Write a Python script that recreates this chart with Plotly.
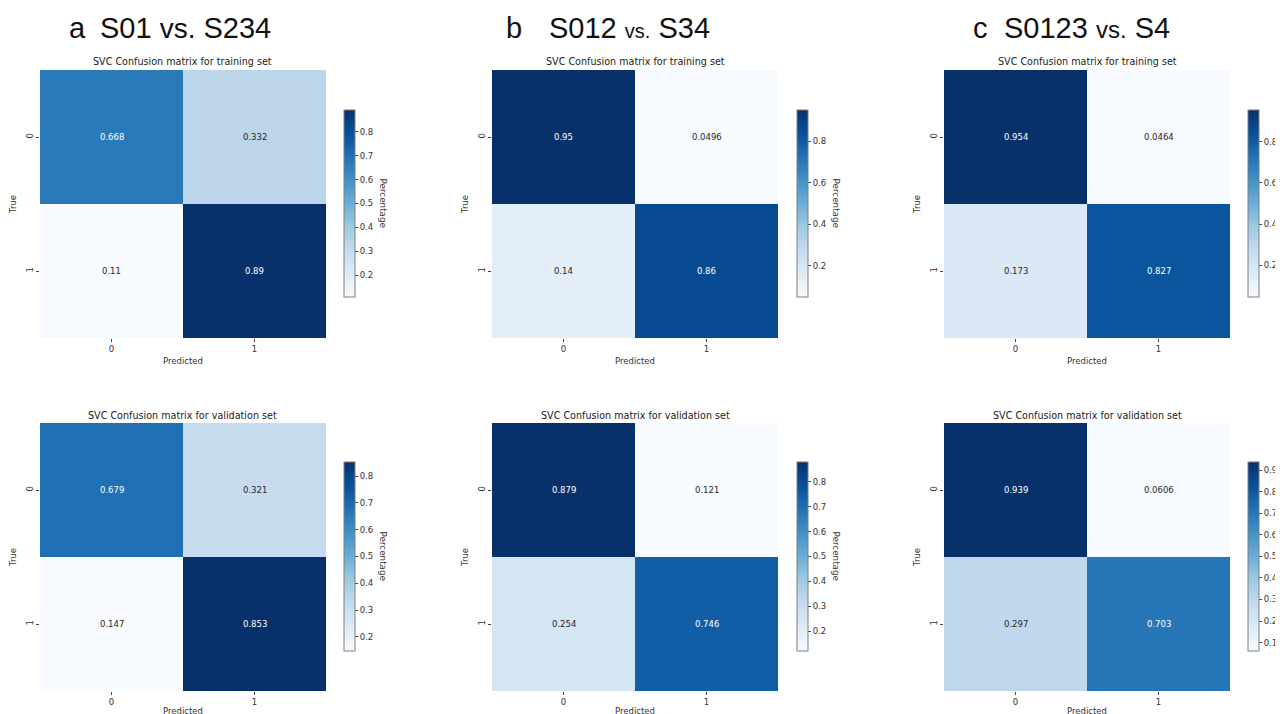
import plotly.graph_objects as go

# ---------------- data ----------------
panel_letters = ["a", "b", "c"]
comparison_left = ["S01", "S012", "S0123"]
comparison_right = ["S234", "S34", "S4"]
set_names = ["training", "validation"]
class_labels = ["0", "1"]

# confusion matrices (row = True, col = Predicted), normalised
train_a = [[0.668, 0.332], [0.11, 0.89]]
train_b = [[0.95, 0.0496], [0.14, 0.86]]
train_c = [[0.954, 0.0464], [0.173, 0.827]]
valid_a = [[0.679, 0.321], [0.147, 0.853]]
valid_b = [[0.879, 0.121], [0.254, 0.746]]
valid_c = [[0.939, 0.0606], [0.297, 0.703]]

matrices = [[train_a, train_b, train_c], [valid_a, valid_b, valid_c]]
colorbar_dticks = [[0.1, 0.2, 0.2], [0.1, 0.1, 0.1]]

# ---------------- style ----------------
W, H = 1283, 714
OFF = 8  # page body margin
blues = ["#f7fbff", "#deebf7", "#c6dbef", "#9ecae1", "#6baed6",
         "#4292c6", "#2171b5", "#08519c", "#08306b"]
colorscale = [[i / 8, c] for i, c in enumerate(blues)]

col_x0 = [40, 492, 944]
row_y0 = [70, 423]
hm_w, hm_h = 286, 268
cb_x = [344, 797, 1248]
cb_rows = [(110, 297), (462, 651)]
pred_standoff = [4, 1]

FONT = "DejaVu Sans"
TXT = "#333333"


def px_x(x):
    return (x - OFF) / W


def px_y(y):
    return 1 - (y - OFF) / H


fig = go.Figure()
annotations = []
idx = 0
for r in range(2):
    for c in range(3):
        idx += 1
        z = matrices[r][c]
        zmin = min(min(row) for row in z)
        zmax = max(max(row) for row in z)
        xa = "x" if idx == 1 else f"x{idx}"
        ya = "y" if idx == 1 else f"y{idx}"
        xkey = "xaxis" if idx == 1 else f"xaxis{idx}"
        ykey = "yaxis" if idx == 1 else f"yaxis{idx}"
        cb_top, cb_bot = cb_rows[r]
        fig.add_trace(go.Heatmap(
            z=z, x=[0, 1], y=[0, 1], xaxis=xa, yaxis=ya,
            colorscale=colorscale, zmin=zmin, zmax=zmax,
            hoverinfo="skip",
            colorbar=dict(
                x=px_x(cb_x[c]), xanchor="left", xpad=0, ypad=0,
                y=px_y((cb_top + cb_bot) / 2), yanchor="middle",
                len=(cb_bot - cb_top) / H, lenmode="fraction",
                thickness=11, thicknessmode="pixels",
                outlinewidth=1, outlinecolor="#7f7f7f",
                ticks="outside", ticklen=3, tickcolor="#444",
                tick0=0, dtick=colorbar_dticks[r][c],
                tickfont=dict(family=FONT, size=8.5, color=TXT),
            ),
        ))
        x0 = col_x0[c]
        y0 = row_y0[r]
        fig.update_layout(**{
            xkey: dict(domain=[px_x(x0), px_x(x0 + hm_w)], anchor=ya,
                       range=[-0.5, 1.5], tickvals=[0, 1], ticktext=class_labels,
                       showgrid=False, zeroline=False, showline=False,
                       ticks="outside", ticklen=3, tickcolor="#444",
                       tickfont=dict(family=FONT, size=8.5, color=TXT),
                       title=dict(text="Predicted", standoff=pred_standoff[r],
                                  font=dict(family=FONT, size=8.5, color=TXT))),
            ykey: dict(domain=[px_y(y0 + hm_h), px_y(y0)], anchor=xa,
                       range=[1.5, -0.5], tickvals=[0, 1], ticktext=class_labels,
                       tickangle=-90,
                       showgrid=False, zeroline=False, showline=False,
                       ticks="outside", ticklen=3, tickcolor="#444",
                       tickfont=dict(family=FONT, size=8.5, color=TXT),
                       title=dict(text="True", standoff=6,
                                  font=dict(family=FONT, size=8.5, color=TXT))),
        })
        # cell annotations
        for i in range(2):
            for j in range(2):
                v = z[i][j]
                norm = (v - zmin) / (zmax - zmin)
                annotations.append(dict(
                    x=j, y=i, xref=xa, yref=ya, text=f"{v:.3g}",
                    showarrow=False,
                    font=dict(family=FONT, size=8.5,
                              color="white" if norm > 0.45 else "#262626")))
        # subplot title
        annotations.append(dict(
            x=px_x(x0 + hm_w / 2), y=px_y(y0 - 8), xref="paper", yref="paper",
            text=f"SVC Confusion matrix for {set_names[r]} set",
            showarrow=False, xanchor="center", yanchor="middle",
            font=dict(family=FONT, size=9.6, color="#222")))
        # colorbar label
        if c < 2:
            annotations.append(dict(
                x=px_x(cb_x[c] + 39), y=px_y((cb_top + cb_bot) / 2),
                xref="paper", yref="paper", text="Percentage", textangle=90,
                showarrow=False, xanchor="center", yanchor="middle",
                font=dict(family=FONT, size=8.8, color=TXT)))

# panel headers
letter_x = [67, 504, 971]
head_x = [98, 547, 1002]
vs_size = [28, 20, 24]
for c in range(3):
    annotations.append(dict(
        x=px_x(letter_x[c]), y=px_y(28), xref="paper", yref="paper",
        text=panel_letters[c], showarrow=False, xanchor="left", yanchor="middle",
        font=dict(family="Liberation Sans", size=29, color="#111")))
    annotations.append(dict(
        x=px_x(head_x[c]), y=px_y(28), xref="paper", yref="paper",
        text=f"{comparison_left[c]} <span style='font-size:{vs_size[c]}px'>vs.</span> {comparison_right[c]}",
        showarrow=False, xanchor="left", yanchor="middle",
        font=dict(family="Liberation Sans", size=29, color="#111")))

fig.update_layout(
    width=W, height=H, margin=dict(l=0, r=0, t=0, b=0),
    paper_bgcolor="white", plot_bgcolor="white",
    showlegend=False, annotations=annotations,
)

fig.write_html("out.html")
